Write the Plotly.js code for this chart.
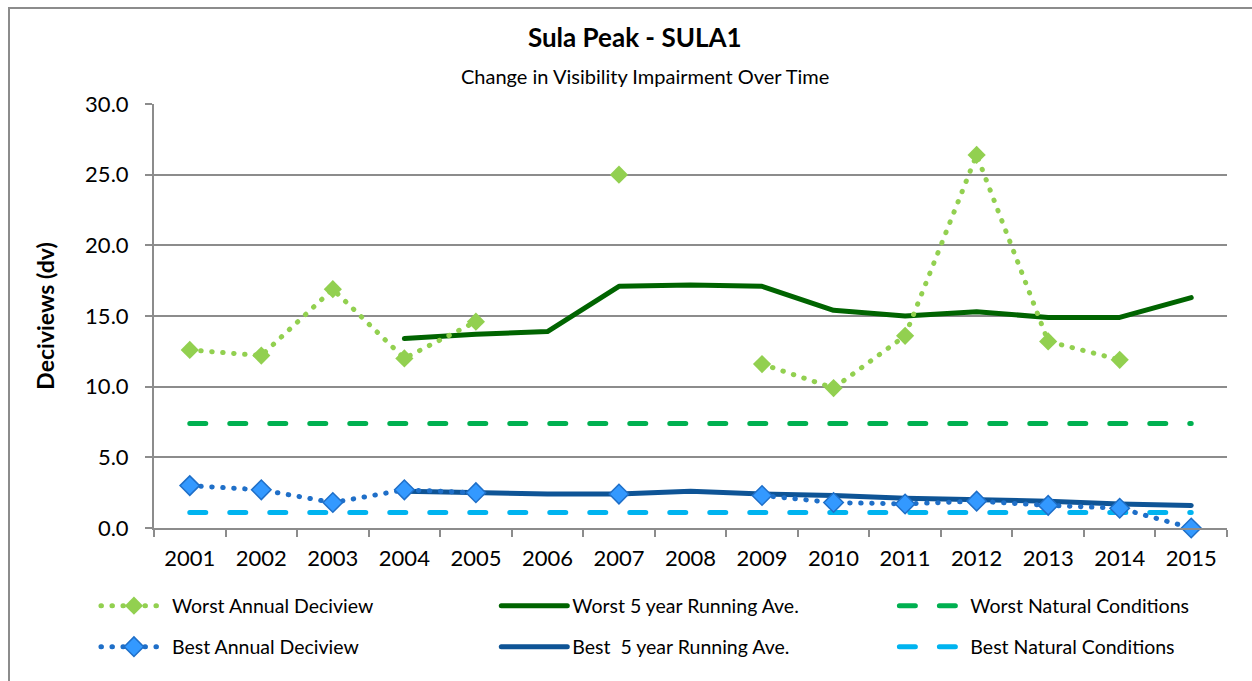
<!DOCTYPE html>
<html>
<head>
<meta charset="utf-8">
<script src="https://cdn.plot.ly/plotly-3.0.1.min.js"></script>
<style>
  html, body { margin: 0; padding: 0; background: #fff; overflow: hidden; }
  #frame { position: absolute; left: 8px; top: 7px; width: 1400px; height: 800px;
           border: 2px solid #8c8c8c; box-sizing: border-box; pointer-events: none; z-index: 5; }
  #chart { position: absolute; left: 0; top: 0; width: 1252px; height: 681px; }
  /* round caps give the dotted and dashed series their soft ends */
  #chart .js-line { stroke-linecap: round; stroke-linejoin: round; }
</style>
</head>
<body>
<div id="chart"></div>
<div id="frame"></div>
<script>
// Sula Peak (SULA1) haze index, deciviews by year
const years = ['2001','2002','2003','2004','2005','2006','2007','2008','2009','2010','2011','2012','2013','2014','2015'];

const worstAnnual   = [12.6, 12.2, 16.9, 12.0, 14.6, null, 25.0, null, 11.6, 9.9, 13.6, 26.4, 13.2, 11.9, null];
const worstRunning  = [null, null, null, 13.4, 13.7, 13.9, 17.1, 17.2, 17.1, 15.4, 15.0, 15.3, 14.9, 14.9, 16.3];
const worstNatural  = [7.4, 7.4, 7.4, 7.4, 7.4, 7.4, 7.4, 7.4, 7.4, 7.4, 7.4, 7.4, 7.4, 7.4, 7.4];

const bestAnnual    = [3.0, 2.7, 1.8, 2.7, 2.5, null, 2.4, null, 2.3, 1.8, 1.7, 1.9, 1.6, 1.4, 0.0];
const bestRunning   = [null, null, null, 2.6, 2.5, 2.4, 2.4, 2.6, 2.4, 2.3, 2.1, 2.0, 1.9, 1.7, 1.6];
const bestNatural   = [1.1, 1.1, 1.1, 1.1, 1.1, 1.1, 1.1, 1.1, 1.1, 1.1, 1.1, 1.1, 1.1, 1.1, 1.1];

const seriesNames = ['Worst Annual Deciview', 'Worst 5 year Running Ave.', 'Worst Natural Conditions',
                     'Best Annual Deciview', 'Best  5 year Running Ave.', 'Best Natural Conditions'];

const FONT = 'Lato, "Liberation Sans", sans-serif';
const DOTS = '0.5px,10.5px';
const DASHES = '16px,24px';

// each series gets its own one-item legend so the key forms a 3 x 2 grid
const traces = [
  { x: years, y: worstAnnual, name: seriesNames[0], legend: 'legend', mode: 'lines+markers',
    line: { color: '#92D050', width: 5, dash: DOTS },
    marker: { symbol: 'diamond', size: 14, color: '#92D050' } },
  { x: years, y: worstRunning, name: seriesNames[1], legend: 'legend2', mode: 'lines',
    line: { color: '#006400', width: 5 } },
  { x: years, y: worstNatural, name: seriesNames[2], legend: 'legend3', mode: 'lines',
    line: { color: '#00B050', width: 5, dash: DASHES } },
  { x: years, y: bestAnnual, name: seriesNames[3], legend: 'legend4', mode: 'lines+markers',
    line: { color: '#1F6FC8', width: 5, dash: DOTS },
    marker: { symbol: 'diamond', size: 15, color: '#3399FF', line: { color: '#1F6FC8', width: 1.5 } } },
  { x: years, y: bestRunning, name: seriesNames[4], legend: 'legend5', mode: 'lines',
    line: { color: '#0E5496', width: 5 } },
  { x: years, y: bestNatural, name: seriesNames[5], legend: 'legend6', mode: 'lines',
    line: { color: '#00B4F0', width: 5, dash: DASHES } }
];
traces.forEach(t => { t.cliponaxis = false; });

// drawn back to front: natural lines first, then running averages, annual points on top
const order = [2, 5, 1, 4, 0, 3];
const data = order.map(i => traces[i]);

const legendCommon = {
  orientation: 'h', xanchor: 'left', yanchor: 'middle', itemwidth: 66,
  font: { family: FONT, size: 19.5, color: '#000' },
  bgcolor: 'rgba(0,0,0,0)', itemclick: false, itemdoubleclick: false
};
const colX = [-0.0541, 0.319, 0.690];
const rowY = [-(606 - 528) / 424, -(647 - 528) / 424];
const legendAt = (c, r) => Object.assign({}, legendCommon, { x: colX[c], y: rowY[r] });

const layout = {
  width: 1252, height: 681,
  margin: { l: 154, r: 25, t: 104, b: 153 },
  paper_bgcolor: '#fff', plot_bgcolor: '#fff',
  font: { family: FONT, color: '#000' },
  showlegend: true,
  title: { text: '<b>Sula Peak - SULA1</b>', x: 0.507, xanchor: 'center', y: 0.944, yanchor: 'middle',
           font: { family: FONT, size: 26, color: '#000' } },
  annotations: [{
    text: 'Change in Visibility Impairment Over Time', xref: 'paper', yref: 'paper',
    x: 0.458, y: 1.0 + (104 - 76) / 424, xanchor: 'center', yanchor: 'middle', showarrow: false,
    font: { family: FONT, size: 20, color: '#000' }
  }],
  xaxis: {
    type: 'category', categoryorder: 'array', categoryarray: years,
    range: [-0.5, 14.5], fixedrange: true, automargin: false,
    showline: true, linecolor: '#8c8c8c', linewidth: 2,
    ticks: 'outside', tickson: 'boundaries', ticklen: 7, tickcolor: '#8c8c8c', tickwidth: 2,
    showgrid: false, zeroline: false,
    tickfont: { family: FONT, size: 22, color: '#000' }, ticklabelstandoff: 10
  },
  yaxis: {
    range: [0, 30], dtick: 5, tick0: 0, tickformat: '.1f', fixedrange: true, automargin: false,
    showline: true, linecolor: '#8c8c8c', linewidth: 2,
    ticks: 'outside', ticklen: 7, tickcolor: '#8c8c8c', tickwidth: 2,
    showgrid: true, gridcolor: '#8c8c8c', gridwidth: 2, zeroline: false,
    tickfont: { family: FONT, size: 22, color: '#000' }, ticklabelstandoff: 12,
    title: { text: '<b>Deciviews (dv)</b>', font: { family: FONT, size: 23, color: '#000' }, standoff: 24 }
  },
  legend:  legendAt(0, 0),
  legend2: legendAt(1, 0),
  legend3: legendAt(2, 0),
  legend4: legendAt(0, 1),
  legend5: legendAt(1, 1),
  legend6: legendAt(2, 1)
};

Plotly.newPlot('chart', data, layout, { displayModeBar: false, staticPlot: true });
</script>
</body>
</html>
